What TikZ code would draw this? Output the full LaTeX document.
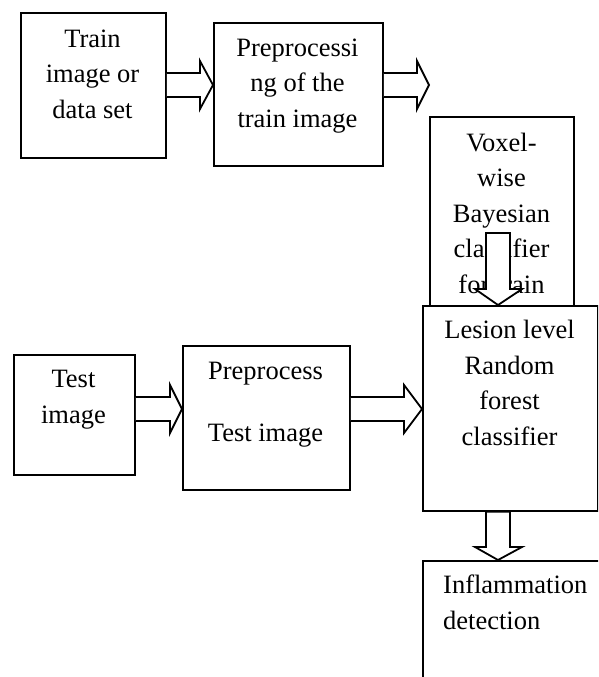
\documentclass[tikz,border=0pt]{standalone}
\usepackage{fontspec}
\setmainfont{Liberation Serif}
\usetikzlibrary{calc}
\newcommand\myrarrow[3]{%
  \draw[barrow] ($(#1)+(0,-12)$) -- ($(#2)+(-#3,-12)$) -- ($(#2)+(-#3,-24)$) -- (#2)
    -- ($(#2)+(-#3,24)$) -- ($(#2)+(-#3,12)$) -- ($(#1)+(0,12)$);}
\newcommand\mydarrow[3]{%
  \draw[barrow] ($(#1)+(-12,0)$) -- ($(#2)+(-12,-#3)$) -- ($(#2)+(-23,-#3)$) -- (#2)
    -- ($(#2)+(24,-#3)$) -- ($(#2)+(12,-#3)$) -- ($(#1)+(12,0)$) -- cycle;}
\begin{document}
\begin{tikzpicture}[x=1pt,y=-1pt,
  box/.style={draw, line width=1.8pt, inner sep=0pt, anchor=north west, fill=white},
  txt/.style={inner sep=0pt, anchor=base, align=center, font=\fontsize{26.5}{35.5}\selectfont},
  barrow/.style={draw, line width=1.8pt, fill=white, line join=miter}]
\useasboundingbox (0,0) rectangle (598,677);
\clip (0,0) rectangle (598,677);
% train path
\node[box, minimum width=145pt, minimum height=145pt] (b1) at (20,12) {};
\node[txt] (t1) at (92.5,118) {Train\\image or\\data set};
\node[box, minimum width=169pt, minimum height=143pt] (b2) at (213,22) {};
\node[txt] (t2) at (297.5,127) {Preprocessi\\ng of the\\train image};
\node[box, minimum width=144pt, minimum height=189pt] (b3) at (429,116) {};
\node[txt] (t3) at (501.5,293) {Voxel-\\wise\\Bayesian\\classifier\\for train};
% test path
\node[box, minimum width=121pt, minimum height=120pt] (b6) at (13,354) {};
\node[txt] (t6) at (73.5,423) {Test\\image};
\node[box, minimum width=167pt, minimum height=144pt] (b7) at (182,345) {};
\node[txt] (t7) at (265.5,441) {Preprocess\\[26pt]Test image};
% arrow inside voxel box
\coordinate (a5s) at (498,233);
\coordinate (a5t) at (498,305);
\mydarrow{a5s}{a5t}{16}
% lesion box
\node[box, minimum width=175pt, minimum height=205pt] (b4) at (422,305) {};
\node[txt] (t4) at (509.5,445) {Lesion level\\Random\\forest\\classifier};
\node[box, minimum width=200pt, minimum height=160pt] (b5) at (422,560) {};
\node[txt, anchor=base west, align=left] (t5) at (443,629) {Inflammation\\detection};
% horizontal arrows
\path (b1.east |- 0,85) coordinate (a1s) (b2.west |- 0,85) coordinate (a1t);
\myrarrow{a1s}{a1t}{13}
\path (b2.east |- 0,85) coordinate (a2s) (b3.west |- 0,85) coordinate (a2t);
\myrarrow{a2s}{a2t}{12}
\path (b6.east |- 0,409) coordinate (a3s) (b7.west |- 0,409) coordinate (a3t);
\myrarrow{a3s}{a3t}{12}
\path (b7.east |- 0,409) coordinate (a4s) (b4.west |- 0,409) coordinate (a4t);
\myrarrow{a4s}{a4t}{18}
% arrow lesion -> inflammation
\path (498,0 |- b4.south) coordinate (a6s) (498,0 |- b5.north) coordinate (a6t);
\mydarrow{a6s}{a6t}{13}
\end{tikzpicture}
\end{document}
